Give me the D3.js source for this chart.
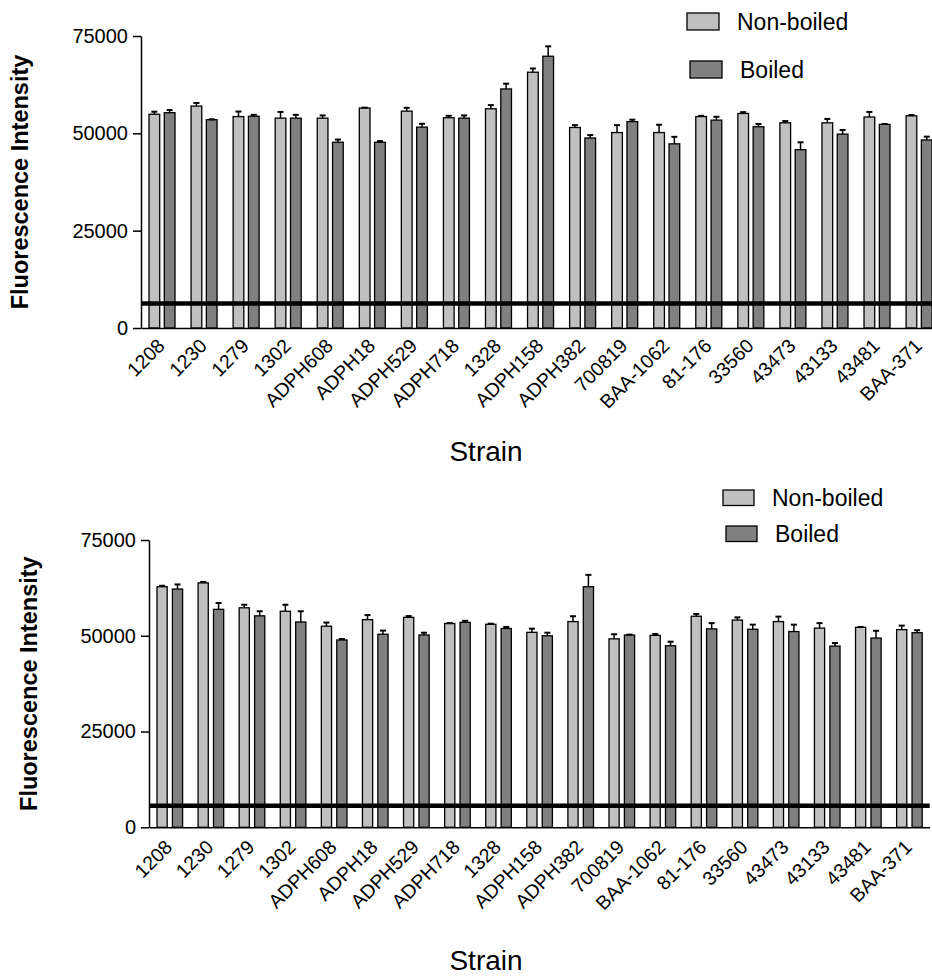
<!DOCTYPE html>
<html lang="en">
<head>
<meta charset="UTF-8">
<title>Fluorescence intensity by strain</title>
<style>
  body { margin: 0; background: #fff; }
  svg text { font-family: "Liberation Sans", Arial, sans-serif; fill: #000; }
</style>
</head>
<body>
<div class="chart"></div>
<script src="https://cdn.jsdelivr.net/npm/d3@7"></script>
<script>
// strains on the x axis (same for both panels)
const strains = ['1208','1230','1279','1302','ADPH608','ADPH18','ADPH529','ADPH718','1328','ADPH158',
  'ADPH382','700819','BAA-1062','81-176','33560','43473','43133','43481','BAA-371']
const series = ['Non-boiled','Boiled']
const yTicks = [0, 25000, 50000, 75000]

// top panel
const topNonBoiled    = [54900,57000,54300,53900,53900,56500,55700,54000,56300,65700,51500,50200,50200,54300,55100,52700,52700,54200,54500]
const topNonBoiledErr = [650,800,1300,1600,700,100,850,500,950,950,600,1900,2000,200,350,450,1000,1300,200]
const topBoiled       = [55300,53500,54400,53900,47700,47700,51600,53900,61400,69800,48800,53000,47300,53400,51700,45800,49800,52300,48300]
const topBoiledErr    = [700,100,350,850,700,300,850,700,1350,2550,750,500,1800,850,700,1900,1050,100,850]
const topCutoff = 6300

// bottom panel
const botNonBoiled    = [62800,63800,57300,56400,52500,54200,54800,53200,53000,50900,53700,49200,50100,55100,54100,53700,52000,52200,51600]
const botNonBoiledErr = [250,250,800,1700,950,1200,350,100,150,950,1400,1200,350,600,700,1300,1300,100,1050]
const botBoiled       = [62200,56900,55200,53600,48900,50400,50200,53500,51900,50000,62800,50200,47400,51800,51700,51100,47300,49400,50800]
const botBoiledErr    = [1200,1650,1200,2800,250,950,600,400,400,800,3100,100,1050,1500,1200,1800,800,1900,650]
const botCutoff = 5600

const width = 932, height = 977
const colors = {'Non-boiled': '#c0c0c0', 'Boiled': '#808080'}

const svg = d3.select('.chart').append('svg')
  .attr('width', width).attr('height', height)

function drawPanel(p) {
  const g = svg.append('g')

  const x = d3.scaleBand().domain(strains)
    .range([p.left, p.left + strains.length * p.step])
    .paddingInner(0).paddingOuter(0)
  const x1 = d3.scaleBand().domain(series)
    .range([8, p.pairEnd]).paddingInner(p.innerPad)
  const y = d3.scaleLinear().domain([0, 75000]).range([p.bottom, p.top])

  const rows = strains.map((s, i) => ({
    strain: s,
    vals: [
      {key: 'Non-boiled', v: p.nb[i], e: p.nbErr[i]},
      {key: 'Boiled', v: p.b[i], e: p.bErr[i]}
    ]
  }))

  // bars + error bars
  const grp = g.selectAll('.pair').data(rows).join('g')
    .attr('class', 'pair')
    .attr('transform', d => `translate(${x(d.strain)},0)`)

  grp.selectAll('rect').data(d => d.vals).join('rect')
    .attr('x', d => x1(d.key))
    .attr('y', d => y(d.v))
    .attr('width', x1.bandwidth())
    .attr('height', d => y(0) - y(d.v))
    .attr('fill', d => colors[d.key])
    .attr('stroke', '#000')
    .attr('stroke-width', 1.3)

  const eb = grp.selectAll('.err').data(d => d.vals).join('g').attr('class', 'err')
  eb.append('line')
    .attr('x1', d => x1(d.key) + x1.bandwidth() / 2)
    .attr('x2', d => x1(d.key) + x1.bandwidth() / 2)
    .attr('y1', d => y(d.v))
    .attr('y2', d => y(d.v + d.e))
    .attr('stroke', '#000').attr('stroke-width', 1.5)
  eb.append('line')
    .attr('x1', d => x1(d.key) + x1.bandwidth() / 2 - 3)
    .attr('x2', d => x1(d.key) + x1.bandwidth() / 2 + 3)
    .attr('y1', d => y(d.v + d.e))
    .attr('y2', d => y(d.v + d.e))
    .attr('stroke', '#000').attr('stroke-width', 2)

  // cutoff line
  g.append('line')
    .attr('x1', p.left + 1).attr('x2', x.range()[1])
    .attr('y1', y(p.cutoff)).attr('y2', y(p.cutoff))
    .attr('stroke', '#000').attr('stroke-width', 4.5)

  // y axis
  const yAxis = g.append('g')
    .attr('transform', `translate(${p.left},0)`)
    .call(d3.axisLeft(y).tickValues(yTicks).tickFormat(d3.format('d'))
      .tickSize(8).tickSizeOuter(0).tickPadding(5))
  yAxis.selectAll('path, line').attr('stroke', '#000').attr('stroke-width', 1.5)
  yAxis.selectAll('text').style('font-size', '20px')

  // x axis
  const xAxis = g.append('g')
    .attr('transform', `translate(0,${p.bottom})`)
    .call(d3.axisBottom(x).tickSize(0).tickSizeOuter(0))
  xAxis.select('.domain').attr('stroke', '#000').attr('stroke-width', 1.5)
  xAxis.selectAll('text')
    .style('font-size', '19.5px')
    .attr('text-anchor', 'end')
    .attr('y', 0).attr('dy', 0)
    .attr('transform', `translate(4,${p.labelDy}) rotate(-45)`)

  // axis titles
  g.append('text')
    .attr('transform', `translate(${p.yTitleX},${(p.top + p.bottom) / 2}) rotate(-90)`)
    .attr('text-anchor', 'middle')
    .style('font-size', '23.5px').style('font-weight', 'bold')
    .text('Fluorescence Intensity')

  g.append('text')
    .attr('x', 486).attr('y', p.xTitleY)
    .attr('text-anchor', 'middle')
    .style('font-size', '28px')
    .text('Strain')

  // legend
  const leg = g.selectAll('.legend').data(series).join('g').attr('class', 'legend')
    .attr('transform', (d, i) => `translate(${p.legend[i][0]},${p.legend[i][1]})`)
  leg.append('rect')
    .attr('width', p.legendBox[0]).attr('height', p.legendBox[1])
    .attr('fill', d => colors[d]).attr('stroke', '#000').attr('stroke-width', 1.3)
  leg.append('text')
    .attr('x', p.legendBox[0] + 18).attr('y', p.legendBox[1])
    .style('font-size', '23px')
    .text(d => d)
}

drawPanel({
  nb: topNonBoiled, nbErr: topNonBoiledErr, b: topBoiled, bErr: topBoiledErr, cutoff: topCutoff,
  left: 141, step: 42.06, pairEnd: 34, innerPad: 0.3,
  top: 36, bottom: 328, labelDy: 19, yTitleX: 28, xTitleY: 461,
  legend: [[687, 13], [690, 61]], legendBox: [32, 17]
})

drawPanel({
  nb: botNonBoiled, nbErr: botNonBoiledErr, b: botBoiled, bErr: botBoiledErr, cutoff: botCutoff,
  left: 149, step: 41.09, pairEnd: 33.6, innerPad: 0.34,
  top: 540, bottom: 827.3, labelDy: 21, yTitleX: 37, xTitleY: 970,
  legend: [[723, 490], [726, 526]], legendBox: [31, 15.5]
})
</script>
</body>
</html>
